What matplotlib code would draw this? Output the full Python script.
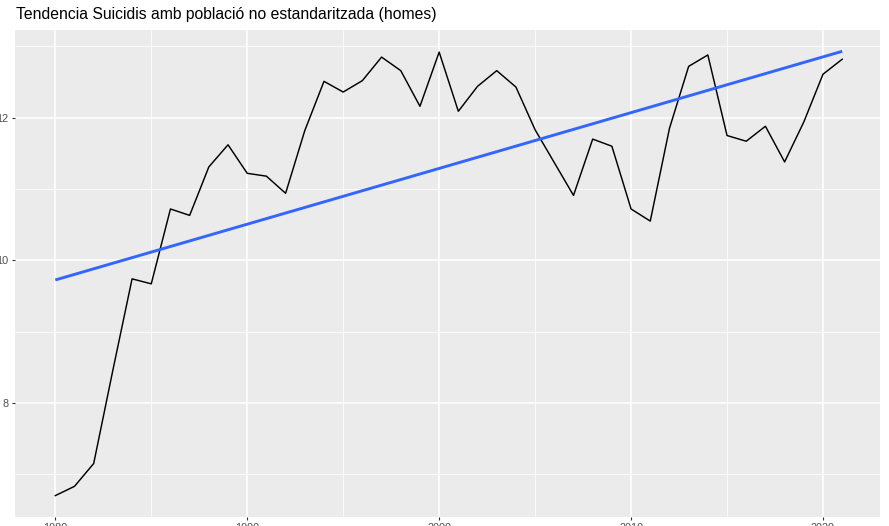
import matplotlib
matplotlib.use("Agg")
import matplotlib.pyplot as plt
import numpy as np

years = np.arange(1980, 2022)
taxa = [6.70, 6.83, 7.15, 8.46, 9.74, 9.67, 10.72, 10.63, 11.31, 11.62,
        11.22, 11.18, 10.94, 11.82, 12.51, 12.36, 12.52, 12.85, 12.66, 12.16,
        12.92, 12.09, 12.44, 12.66, 12.43, 11.83, 11.37, 10.91, 11.70, 11.60,
        10.72, 10.55, 11.85, 12.72, 12.88, 11.75, 11.67, 11.88, 11.38, 11.94,
        12.61, 12.82]
x_ticks = [1980, 1990, 2000, 2010, 2020]
y_ticks = [8, 10, 12]

plt.rcParams['font.family'] = ['Liberation Sans', 'DejaVu Sans']

fig = plt.figure(figsize=(8.89, 5.26), dpi=100)
W, H = 889, 526
ax = fig.add_axes([15 / W, 9 / H, 865 / W, 487 / H])
ax.set_facecolor('#EBEBEB')

# graella ggplot
for yr in np.arange(1975, 2026, 10):
    ax.axvline(yr, color='white', lw=0.55, zorder=0)
for v in np.arange(7, 14, 2):
    ax.axhline(v, color='white', lw=0.55, zorder=0)
for yr in x_ticks:
    ax.axvline(yr, color='white', lw=1.1, zorder=0)
for v in y_ticks:
    ax.axhline(v, color='white', lw=1.1, zorder=0)

ax.plot(years, taxa, color='black', lw=1.05, zorder=2)

# recta de regressio (lm)
coef = np.polyfit(years, taxa, 1)
ax.plot(years, np.polyval(coef, years), color='#3366FF', lw=2.1, zorder=3,
        solid_capstyle='butt')

ax.set_xlim(1977.9, 2022.97)
ax.set_ylim(6.40, 13.23)
ax.set_xticks(x_ticks)
ax.set_yticks(y_ticks)
ax.tick_params(axis='both', length=2.5, width=0.8, color='#333333',
               labelsize=7.8, labelcolor='#4D4D4D', pad=2.0)
for s in ax.spines.values():
    s.set_visible(False)

fig.text(16 / W, 1 - 18.5 / H, 'Tendencia Suicidis amb població no estandaritzada (homes)',
         fontsize=11.3, va='baseline', ha='left', color='black')

fig.savefig('out.png', dpi=100)
